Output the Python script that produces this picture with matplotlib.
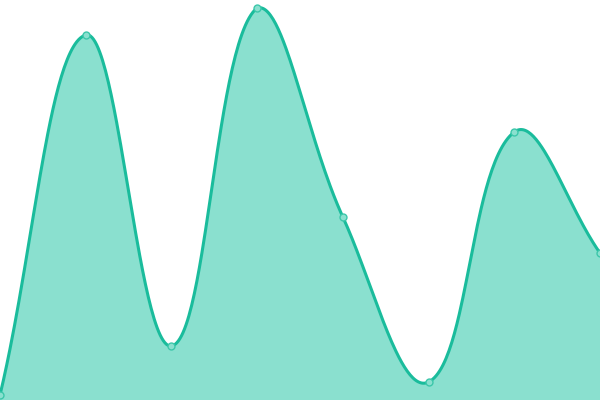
import matplotlib
matplotlib.use("Agg")
import matplotlib.pyplot as plt
import numpy as np

# values (axis runs 0..400)
labels = ["A", "B", "C", "D", "E", "F", "G", "H"]
values = [5, 365, 54, 392, 183, 18, 268, 147]

LINE = "#1abc9c"
FILL = "#8ae0cf"
TENSION = 0.4

W, H = 600, 400
x = np.arange(len(values), dtype=float)
y = np.array(values, dtype=float)

# pixel scale, so the spline looks the same as in the canvas
sx = W / (len(values) - 1)
sy = H / 400.0


def spline(xs, ys, t):
    px, py = xs * sx, ys * sy
    n = len(px)
    cps = []
    for i in range(n):
        pi = max(i - 1, 0)
        ni = min(i + 1, n - 1)
        d01 = np.hypot(px[i] - px[pi], py[i] - py[pi])
        d12 = np.hypot(px[ni] - px[i], py[ni] - py[i])
        tot = d01 + d12
        s01 = d01 / tot if tot else 0
        s12 = d12 / tot if tot else 0
        fa, fb = t * s01, t * s12
        dx, dy = px[ni] - px[pi], py[ni] - py[pi]
        prev = (px[i] - fa * dx, py[i] - fa * dy)
        nxt = (px[i] + fb * dx, py[i] + fb * dy)
        cps.append((prev, nxt))
    cx, cy = [], []
    tt = np.linspace(0, 1, 60)
    for i in range(n - 1):
        p0 = np.array([px[i], py[i]])
        p1 = np.array(cps[i][1])
        p2 = np.array(cps[i + 1][0])
        p3 = np.array([px[i + 1], py[i + 1]])
        # keep control points in the canvas
        p1 = np.clip(p1, [0, 0], [W, H])
        p2 = np.clip(p2, [0, 0], [W, H])
        b = ((1 - tt) ** 3)[:, None] * p0 + (3 * (1 - tt) ** 2 * tt)[:, None] * p1 \
            + (3 * (1 - tt) * tt ** 2)[:, None] * p2 + (tt ** 3)[:, None] * p3
        cx.extend(b[:, 0])
        cy.extend(b[:, 1])
    return np.array(cx) / sx, np.array(cy) / sy


cx, cy = spline(x, y, TENSION)

fig = plt.figure(figsize=(6, 4), dpi=100)
ax = fig.add_axes([0, 0, 1, 1])
ax.fill_between(cx, 0, cy, color=FILL, linewidth=0)
ax.plot(cx, cy, color=LINE, linewidth=2.2, solid_capstyle="round")
ax.plot(x, y, "o", markersize=5, markerfacecolor=FILL,
        markeredgecolor="#3cc7aa", markeredgewidth=1)
ax.set_xlim(0, len(values) - 1)
ax.set_ylim(0, 400)
ax.axis("off")

fig.savefig("out.png", dpi=100)
